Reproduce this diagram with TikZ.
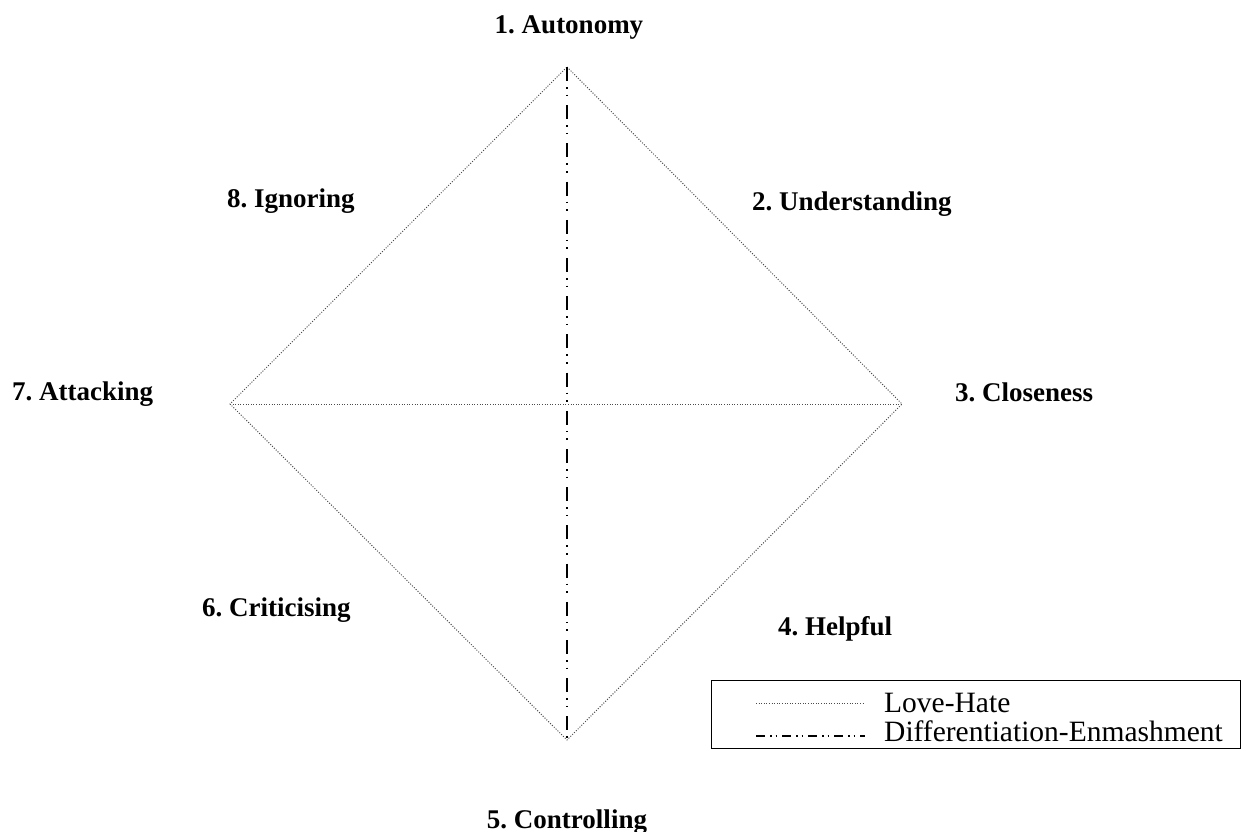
\documentclass[tikz,border=0pt]{standalone}
\usepackage{fontspec}
\setmainfont{Liberation Serif}
\frenchspacing
\begin{document}
\begin{tikzpicture}[x=1bp,y=-1bp,
  lbl/.style={inner sep=0pt, font=\fontsize{27bp}{30bp}\selectfont\bfseries},
  legtext/.style={inner sep=0pt, anchor=base west, font=\fontsize{29.5bp}{32bp}\selectfont},
  lovehate/.style={draw=black!70, line width=1bp, dash pattern=on 1bp off 1.6bp},
  diffenm/.style={draw=black, line width=1.8bp, dash pattern=on 14bp off 6bp on 1.6bp off 6bp on 1.6bp off 9bp},
  legbox/.style={draw, line width=1.4bp, inner sep=0pt, anchor=north west, minimum width=529bp, minimum height=68bp}]
\useasboundingbox (0,0) rectangle (1252,832);
\coordinate (T) at (567,67);
\coordinate (R) at (902,404);
\coordinate (B) at (567,740);
\coordinate (L) at (230,404);
\draw[lovehate] (T) -- (R) -- (B) -- (L) -- cycle;
\draw[lovehate] (L) -- (R);
\draw[diffenm] (T) -- (B);
\node[lbl, anchor=base] (n1) at (569,33) {1. Autonomy};
\node[lbl, anchor=base west] (n2) at (752,210) {2. Understanding};
\node[lbl, anchor=base west] (n3) at (955,401) {3. Closeness};
\node[lbl, anchor=base west] (n4) at (778,635) {4. Helpful};
\node[lbl, anchor=base] (n5) at (567,828) {5. Controlling};
\node[lbl, anchor=base west] (n6) at (202,616) {6. Criticising};
\node[lbl, anchor=base west] (n7) at (12,400) {7. Attacking};
\node[lbl, anchor=base west] (n8) at (227,207) {8. Ignoring};
\node[legbox] (legend) at (711,680) {};
\coordinate (s1a) at (756,703);
\coordinate (s1b) at (865,703);
\coordinate (s2a) at (756,736);
\coordinate (s2b) at (865,736);
\draw[lovehate] (s1a) -- (s1b);
\draw[draw=black, line width=1.6bp, dash pattern=on 9bp off 5bp on 1.5bp off 4bp on 1.5bp off 5bp] (s2a) -- (s2b);
\node[legtext] (t1) at (884,712) {Love-Hate};
\node[legtext] (t2) at (884,741) {Differentiation-Enmashment};
\end{tikzpicture}
\end{document}
